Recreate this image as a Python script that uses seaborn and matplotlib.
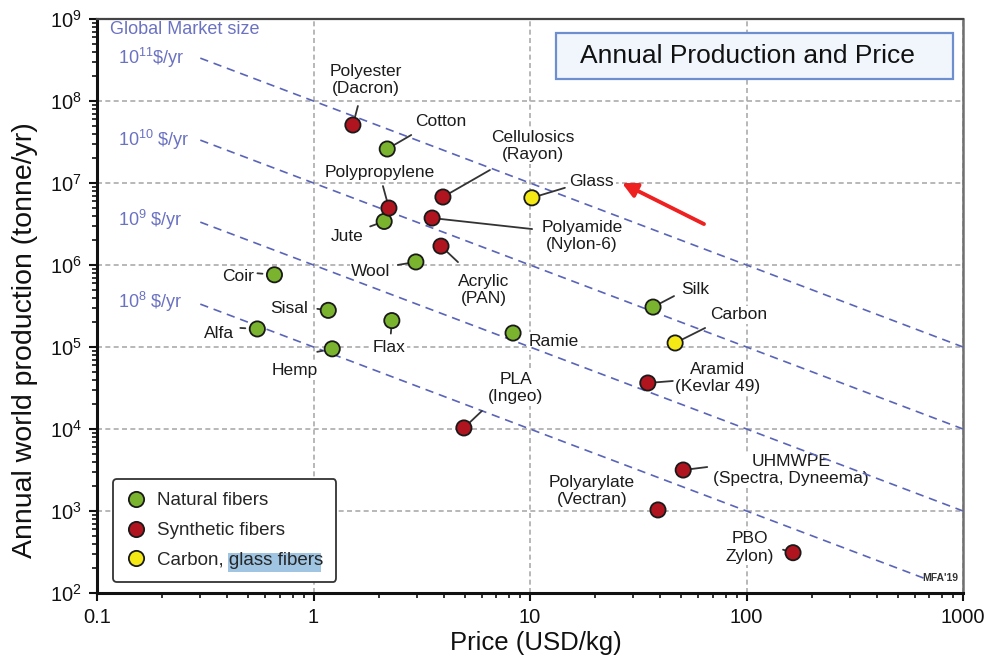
import matplotlib
matplotlib.use("Agg")
import matplotlib.pyplot as plt
import matplotlib.patches as mpatches
from matplotlib.lines import Line2D
from matplotlib.transforms import IdentityTransform
import numpy as np
import pandas as pd
import seaborn as sns

# Fibre price (USD/kg) and annual world production (tonne/yr)
fibers = ["Coir", "Sisal", "Alfa", "Hemp", "Flax", "Jute", "Cotton", "Wool", "Ramie", "Silk",
          "Polyester", "Polypropylene", "Cellulosics", "Polyamide", "Acrylic", "PLA",
          "Aramid", "UHMWPE", "Polyarylate", "PBO",
          "Glass", "Carbon"]
price = [0.66, 1.17, 0.55, 1.22, 2.3, 2.12, 2.19, 2.97, 8.35, 37,
         1.52, 2.23, 3.96, 3.53, 3.88, 4.95,
         35, 51, 39, 164,
         10.2, 46.8]
production = [7.6e5, 2.8e5, 1.66e5, 9.5e4, 2.1e5, 3.4e6, 2.6e7, 1.09e6, 1.48e5, 3.07e5,
              5.1e7, 4.95e6, 6.75e6, 3.74e6, 1.7e6, 1.03e4,
              3.64e4, 3.16e3, 1.03e3, 3.1e2,
              6.6e6, 1.12e5]
fiber_class = ["Natural fibers"] * 10 + ["Synthetic fibers"] * 10 + ["Carbon, glass fibers"] * 2
point_labels = ["Coir", "Sisal", "Alfa", "Hemp", "Flax", "Jute", "Cotton", "Wool", "Ramie", "Silk",
                "Polyester\n(Dacron)", "Polypropylene", "Cellulosics\n(Rayon)", "Polyamide\n(Nylon-6)",
                "Acrylic\n(PAN)", "PLA\n(Ingeo)", "Aramid\n(Kevlar 49)", "UHMWPE\n(Spectra, Dyneema)",
                "Polyarylate\n(Vectran)", "PBO\nZylon)",
                "Glass", "Carbon"]

# axis ticks
x_ticks = [0.1, 1, 10, 100, 1000]
x_tick_labels = ["0.1", "1", "10", "100", "1000"]
y_ticks = [1e2, 1e3, 1e4, 1e5, 1e6, 1e7, 1e8, 1e9]

# Iso-market-size lines ($/yr) and their labels
market_sizes = [1e11, 1e10, 1e9, 1e8]
market_labels = [r"$\mathdefault{10^{11}}$\$/yr", r"$\mathdefault{10^{10}}$ \$/yr",
                 r"$\mathdefault{10^{9}}$ \$/yr", r"$\mathdefault{10^{8}}$ \$/yr"]
market_price_end = [1000, 1000, 1000, 700]

class_order = ["Natural fibers", "Synthetic fibers", "Carbon, glass fibers"]
class_colors = ["#7ab32e", "#b0141e", "#f4e915"]

df = pd.DataFrame({"fiber": fibers, "price": price, "production": production,
                   "cls": fiber_class, "label": point_labels})

# label placement: text offset (dx, dy) and connector end (cx, cy) in pixels, gap at the marker
label_layout = {
    "Coir": (-36, -2, -17, 1.5, 12),
    "Sisal": (-39, 2, -11, 1.5, 8),
    "Alfa": (-38, -5, -17, 1, 12),
    "Hemp": (-37, -22, -15, -3, 10),
    "Flax": (-3, -27, -1, -13, 7),
    "Jute": (-37, -15, -14, -5, 0),
    "Cotton": (54, 27, 24, 14, 0),
    "Wool": (-45, -10, -18, -3, 0),
    "Ramie": (41, -8, None, None, 0),
    "Silk": (42, 18, 21, 11, 0),
    "Polyester": (13, 45, 5, 19, 0),
    "Polypropylene": (-9, 36, -6, 22, 0),
    "Cellulosics": (90, 51, 47, 27, 0),
    "Polyamide": (150, -18, 100, -11, 0),
    "Acrylic": (43, -44, 17, -16, 0),
    "PLA": (52, 40, 18, 17, 0),
    "Aramid": (70, 5, 25, 2, 0),
    "UHMWPE": (108, 0, 24, 3, 0),
    "Polyarylate": (-66, 19, None, None, 0),
    "PBO": (-43, 5, -10, 3, 7),
    "Glass": (60, 16, 33, 10, 0),
    "Carbon": (64, 28, 30, 15, 0),
}

sns.set_theme(style="ticks")
plt.rcParams["font.family"] = ["Liberation Sans", "DejaVu Sans"]
plt.rcParams["mathtext.fontset"] = "custom"
plt.rcParams["mathtext.rm"] = "Liberation Sans"
plt.rcParams["mathtext.it"] = "Liberation Sans:italic"
plt.rcParams["mathtext.bf"] = "Liberation Sans:bold"

fig = plt.figure(figsize=(9.87, 6.63), dpi=100)
ax = fig.add_axes([0.0983, 0.1056, 0.8774, 0.8657])
ax.set_xscale("log")
ax.set_yscale("log")
ax.set_xlim(0.1, 1000)
ax.set_ylim(1e2, 1e9)

# dashed decade grid
ax.grid(True, which="major", color="#acacac", linestyle=(0, (3, 2)), linewidth=1.2, zorder=0.5)
ax.set_axisbelow(True)

# market size lines
market_color = "#5a64b8"
for size, pend in zip(market_sizes, market_price_end):
    xs = np.array([0.3, pend])
    ax.plot(xs, size / (1000.0 * xs), color=market_color, linestyle=(0, (5, 3.5)),
            linewidth=1.2, zorder=3)

ax.text(0.015, 0.981, "Global Market size", transform=ax.transAxes, color="#6b72c2",
        fontsize=13, ha="left", va="center")
for lab, yfrac in zip(market_labels, [0.932, 0.789, 0.650, 0.507]):
    ax.text(0.024, yfrac, lab, transform=ax.transAxes, color="#6b72c2",
            fontsize=13, ha="left", va="center")

# data points
sns.scatterplot(data=df, x="price", y="production", hue="cls", hue_order=class_order,
                palette=class_colors, s=120, edgecolor="#1a1a1a", linewidth=1.3,
                legend=False, ax=ax, zorder=4)

# point labels and connector lines
for _, row in df.iterrows():
    dx, dy, cx, cy, gap = label_layout[row["fiber"]]
    ax.annotate(row["label"], xy=(row["price"], row["production"]), xytext=(dx, dy),
                textcoords="offset pixels", ha="center", va="center", fontsize=12.5,
                color="#1c1c1c", zorder=2,
                bbox=dict(boxstyle="square,pad=0.08", fc="white", ec="none"))
    if cx is not None:
        ax.annotate("", xy=(row["price"], row["production"]), xytext=(cx, cy),
                    textcoords="offset pixels", zorder=3.5,
                    arrowprops=dict(arrowstyle="-", color="#333333", lw=1.3,
                                    shrinkA=0, shrinkB=gap * 0.72))

# title box
ax.add_patch(mpatches.Rectangle((0.530, 0.8955), 0.4585, 0.0801, transform=ax.transAxes,
                                facecolor="#f0f6fb", edgecolor="#6d8fd0", linewidth=1.6,
                                zorder=5))
ax.text(0.7512, 0.9355, "Annual Production and Price", transform=ax.transAxes,
        fontsize=19, ha="center", va="center", color="#111111", zorder=6)

# pointer to glass
ax.annotate("", xy=(26.6, 1.0e7), xytext=(63.6, 3.16e6),
            arrowprops=dict(arrowstyle="-|>", color="#ee2020", lw=2.8,
                            mutation_scale=22, shrinkA=0, shrinkB=0), zorder=6)

ax.text(0.994, 0.026, "MFA'19", transform=ax.transAxes, fontsize=7.5, ha="right",
        va="center", color="#333333", fontweight="bold")

# legend
handles = [Line2D([], [], linestyle="none", marker="o", markersize=11,
                  markerfacecolor=c, markeredgecolor="#1a1a1a", markeredgewidth=1.3)
           for c in class_colors]
leg = ax.legend(handles, class_order, loc="lower left", bbox_to_anchor=(0.0185, 0.019),
                borderaxespad=0, fontsize=13.5, frameon=True, fancybox=True,
                handlelength=1.0, handletextpad=0.65, labelspacing=0.68, borderpad=0.7)
frame = leg.get_frame()
frame.set_facecolor("none")
frame.set_edgecolor("#333333")
frame.set_linewidth(1.3)
frame.set_alpha(None)
leg.set_zorder(7)

# axes styling
ax.set_xlabel("Price (USD/kg)", fontsize=18.5, color="#111111")
ax.xaxis.set_label_coords(0.507, -0.067)
ax.set_ylabel("Annual world production (tonne/yr)", fontsize=20.5, color="#111111")
ax.yaxis.set_label_coords(-0.068, 0.44)
ax.set_xticks(x_ticks)
ax.set_xticklabels(x_tick_labels)
ax.set_yticks(y_ticks)
ax.tick_params(which="major", direction="out", length=6, width=1.5, labelsize=14.5,
               colors="#111111", pad=5)
ax.tick_params(which="minor", direction="out", length=3.5, width=1.2, colors="#111111",
               labelleft=False, labelbottom=False)
ax.set_xlim(0.1, 1000)
ax.set_ylim(1e2, 1e9)
for side, col, lw in [("left", "#111111", 2.2), ("bottom", "#111111", 2.2),
                      ("top", "#444444", 1.6), ("right", "#707070", 1.8)]:
    ax.spines[side].set_color(col)
    ax.spines[side].set_linewidth(lw)
    ax.spines[side].set_visible(True)

# legend background and the highlighted "glass fibers" words
fig.canvas.draw()
renderer = fig.canvas.get_renderer()
lb = leg.get_frame().get_window_extent(renderer)
ax.add_patch(mpatches.FancyBboxPatch((lb.x0, lb.y0), lb.width, lb.height,
                                     boxstyle="round,pad=0,rounding_size=6",
                                     transform=IdentityTransform(), facecolor="white",
                                     edgecolor="none", zorder=6.5))
txt = leg.get_texts()[2]
tb = txt.get_window_extent(renderer)
pw, _, _ = renderer.get_text_width_height_descent("Carbon, ", txt.get_fontproperties(),
                                                   ismath=False)
ax.add_patch(mpatches.Rectangle((tb.x0 + pw - 1, tb.y0 - 3), tb.width - pw - 1, tb.height + 2,
                                transform=IdentityTransform(), facecolor="#9fc5e3",
                                edgecolor="none", zorder=6.8))

fig.savefig("out.png", dpi=100)
